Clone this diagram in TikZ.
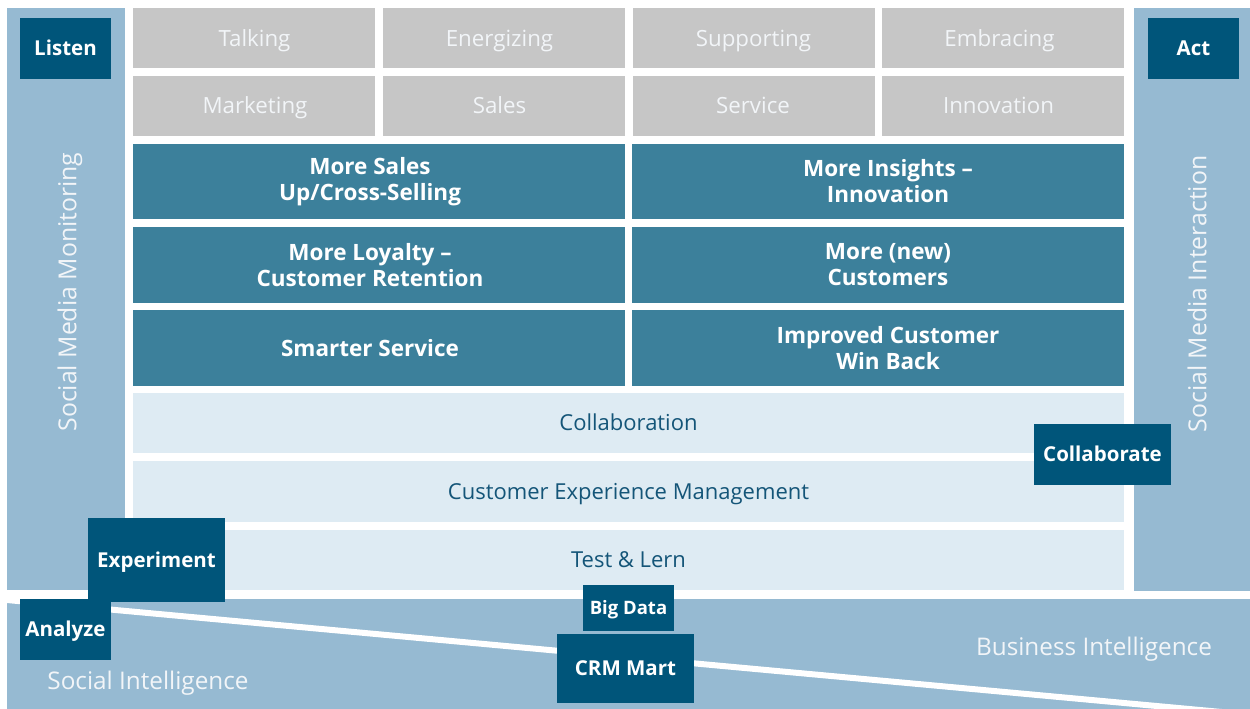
\documentclass[tikz,border=0pt]{standalone}
\usepackage{fontspec}
\setmainfont{Open Sans}
\definecolor{sky}{RGB}{150,186,210}
\definecolor{navy}{RGB}{0,85,122}
\definecolor{teal}{RGB}{60,128,155}
\definecolor{silver}{RGB}{198,198,198}
\definecolor{pale}{RGB}{222,235,243}
\definecolor{ink}{RGB}{20,85,120}
\definecolor{snow}{RGB}{242,245,248}
\begin{document}
\begin{tikzpicture}[x=1pt,y=-1pt,
    box/.style={inner sep=0pt,outer sep=0pt,align=center},
    greycell/.style={box,fill=silver,minimum width=242pt,minimum height=60pt},
    greytext/.style={text height=17pt,text depth=1.1pt,text=snow,font=\fontsize{22.3}{24}\selectfont},
    tealcell/.style={box,fill=teal,minimum width=492pt,minimum height=75.5pt},
    tealtext/.style={text=white,align=center,font=\fontsize{22.5}{26}\selectfont\bfseries},
    palecell/.style={box,text height=17pt,text depth=1.3pt,fill=pale,text=ink,minimum width=991pt,minimum height=60.5pt,font=\fontsize{22}{24}\selectfont},
    navybox/.style={box,text height=16pt,text depth=1.36pt,fill=navy,text=white,font=\fontsize{20.5}{23}\selectfont\bfseries},
    sidetext/.style={text=snow,font=\fontsize{24.8}{27}\selectfont,rotate=90},
    bandtext/.style={text height=18.5pt,text depth=1.15pt,text=snow,font=\fontsize{24.3}{27}\selectfont}]
  \useasboundingbox (0,0) rectangle (1250,709);
  \fill[sky] (7,599) rectangle (1250,709);
  \draw[white,line width=6pt] (7,600) -- (1250,714.6);
  \node[bandtext] (socint) at (148,680.5) {Social Intelligence};
  \node[bandtext] (busint) at (1094,647) {Business Intelligence};
  \fill[sky] (7,8) rectangle (125,590);
  \fill[sky] (1134,8) rectangle (1250,591);
  \node[sidetext] (monitor) at (70,292) {Social Media Monitoring};
  \node[sidetext] (interact) at (1197,294) {Social Media Interaction};
  \node[greycell] (c11) at (254,38) {};
  \node[greycell] (c12) at (504,38) {};
  \node[greycell] (c13) at (753.5,38) {};
  \node[greycell] (c14) at (1003,38) {};
  \node[greycell] (c21) at (254,106) {};
  \node[greycell] (c22) at (504,106) {};
  \node[greycell] (c23) at (753.5,106) {};
  \node[greycell] (c24) at (1003,106) {};
  \node[greytext] (talk) at (254.5,39) {Talking};
  \node[greytext] (energy) at (499.5,39) {Energizing};
  \node[greytext] (support) at (753.5,39) {Supporting};
  \node[greytext] (embrace) at (999.5,39) {Embracing};
  \node[greytext] (market) at (255,106) {Marketing};
  \node[greytext] (sales) at (499.5,106) {Sales};
  \node[greytext] (service) at (753,106) {Service};
  \node[greytext] (innov) at (998.5,106) {Innovation};
  \node[tealcell] (t1l) at (379,181.5) {};
  \node[tealcell] (t1r) at (878,181.5) {};
  \node[tealcell] (t2l) at (379,265) {};
  \node[tealcell] (t2r) at (878,265) {};
  \node[tealcell] (t3l) at (379,348) {};
  \node[tealcell] (t3r) at (878,348) {};
  \node[tealtext] (moresales) at (370,181.5) {More Sales\\Up/Cross-Selling};
  \node[tealtext] (insights) at (888,181.5) {More Insights --\\Innovation};
  \node[tealtext] (loyalty) at (370,265) {More Loyalty --\\Customer Retention};
  \node[tealtext] (newcust) at (888,265) {More (new)\\Customers};
  \node[tealtext] (smarter) at (370,348) {Smarter Service};
  \node[tealtext] (winback) at (888,348) {Improved Customer\\Win Back};
  \node[palecell] (collab) at (628.5,423) {Collaboration};
  \node[palecell] (cem) at (628.5,491.5) {Customer Experience Management};
  \node[palecell] (testlern) at (628.5,560) {Test \& Lern};
  \node[navybox,minimum width=91pt,minimum height=61pt] (listen) at (65.5,48.5) {Listen};
  \node[navybox,minimum width=91pt,minimum height=61pt] (act) at (1193.5,48.5) {Act};
  \node[navybox,minimum width=137pt,minimum height=84pt] (experiment) at (156.5,560) {Experiment};
  \node[navybox,minimum width=91pt,minimum height=61pt] (analyze) at (65.5,629.5) {Analyze};
  \node[navybox,minimum width=137pt,minimum height=61pt] (collaborate) at (1102.5,454.5) {Collaborate};
  \node[navybox,minimum width=91pt,minimum height=46pt,text height=14.5pt,text depth=1.3pt,font=\fontsize{18.5}{21}\selectfont\bfseries] (bigdata) at (628.5,608) {Big Data};
  \node[navybox,minimum width=137pt,minimum height=69pt] (crm) at (625.5,668.5) {CRM Mart};
\end{tikzpicture}
\end{document}
